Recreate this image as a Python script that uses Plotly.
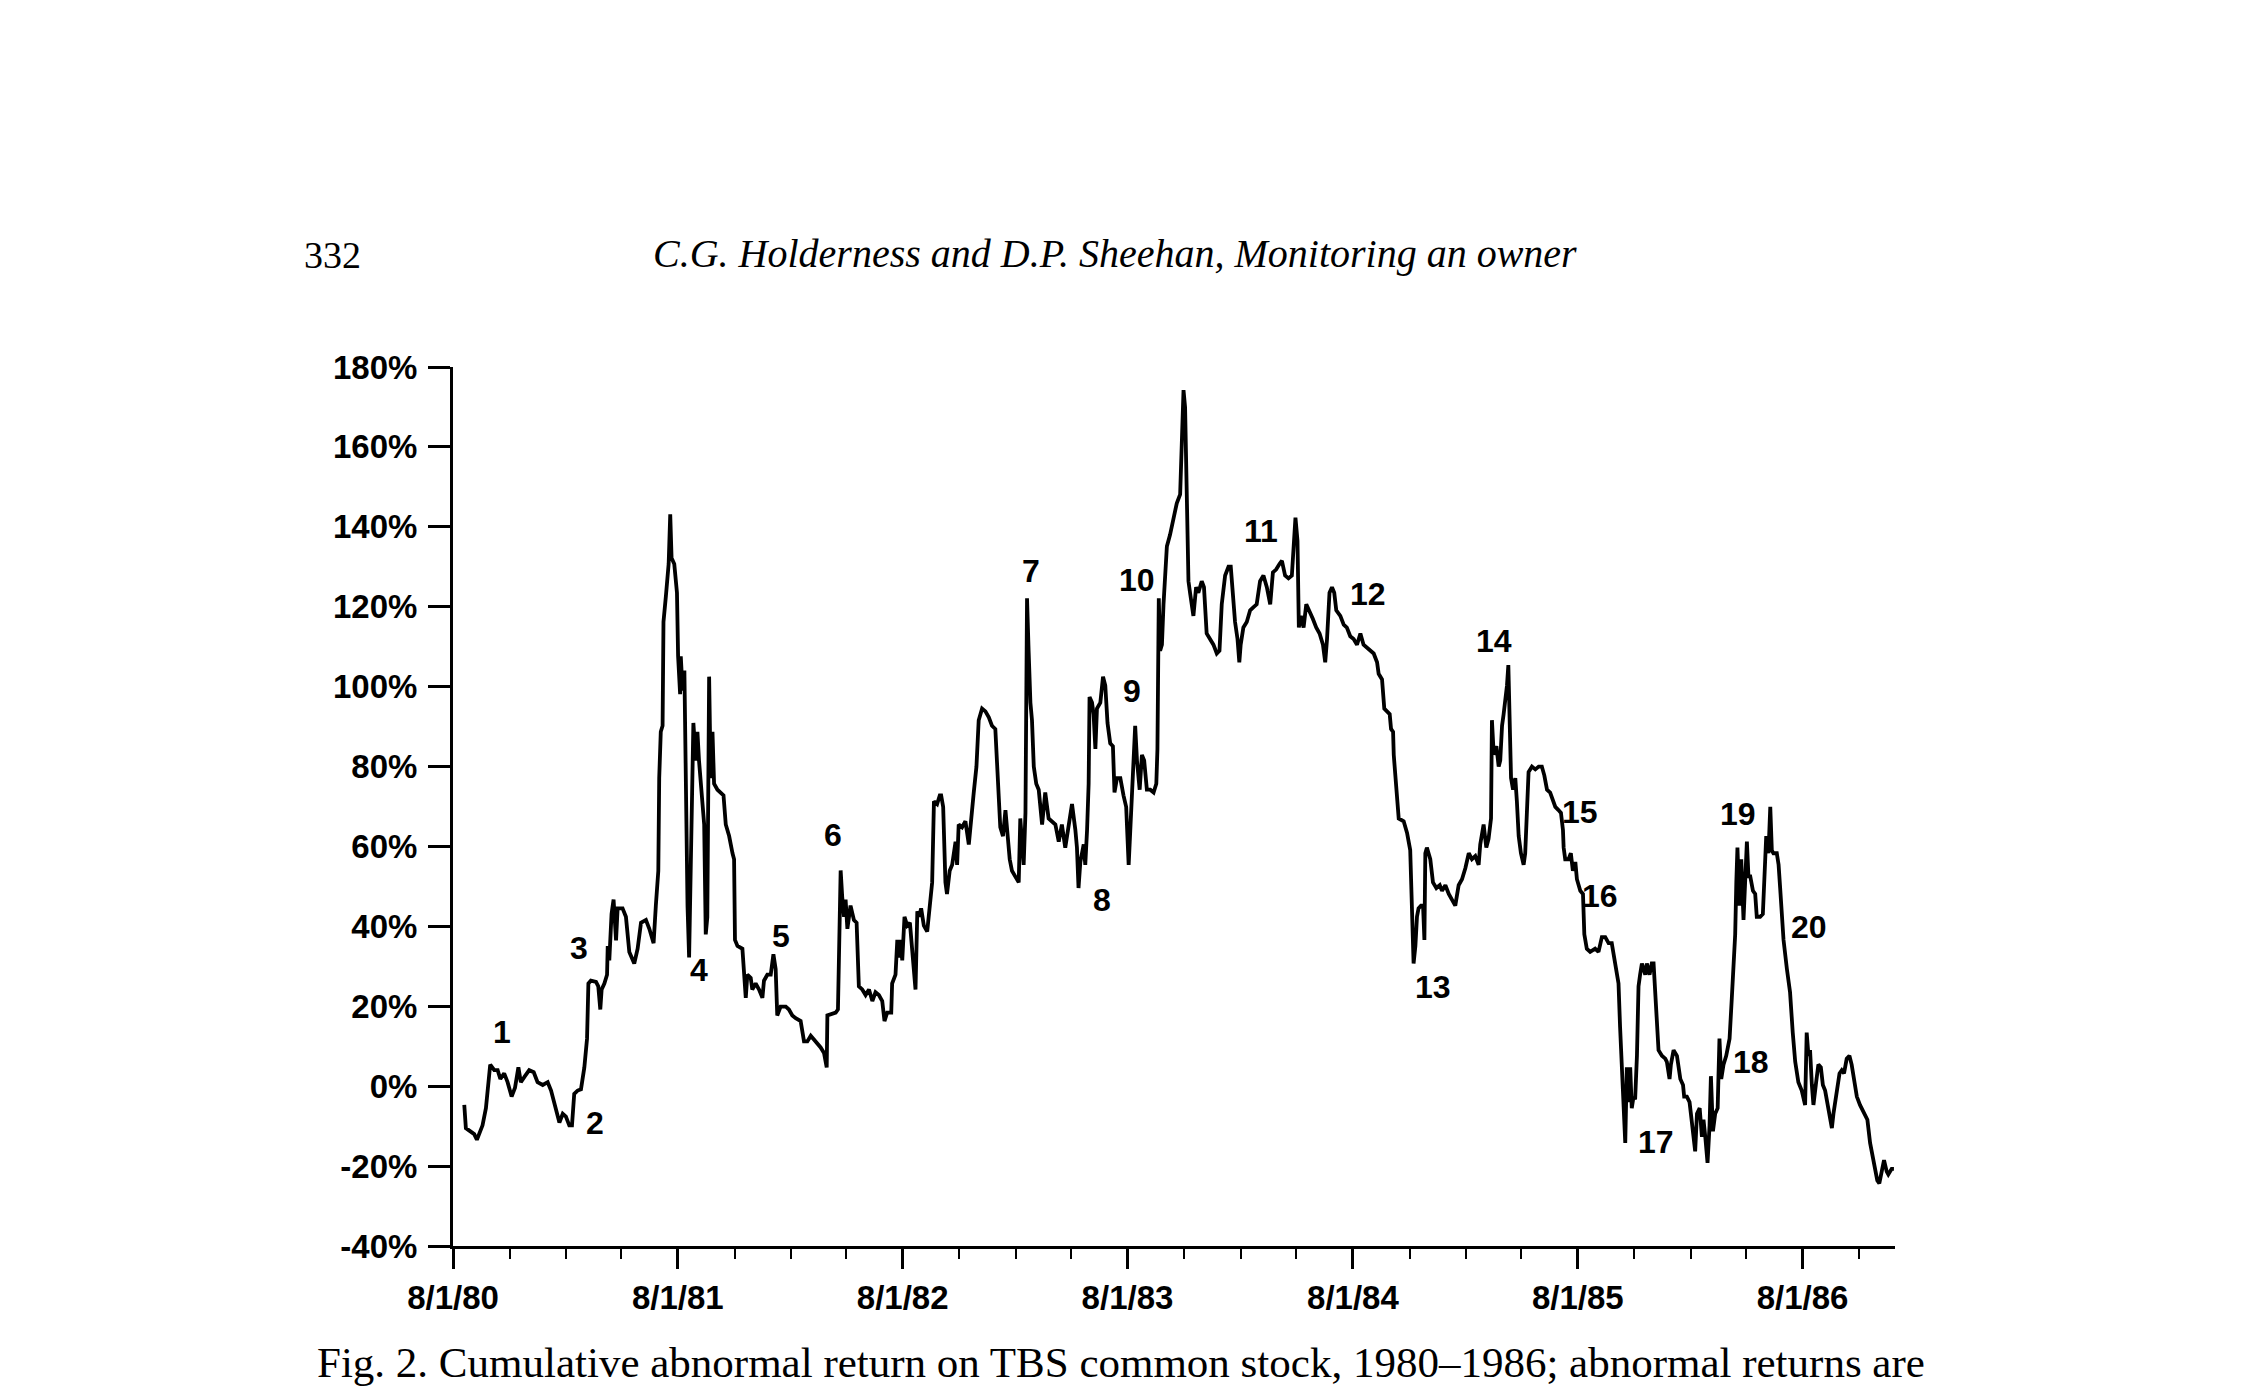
import plotly.graph_objects as go
import pandas as pd

# ---------------- data ----------------
# x: date expressed as decimal year, y: cumulative abnormal return (%)
decimal_year = [
    1980.632, 1980.639, 1980.676, 1980.688, 1980.713, 1980.728, 1980.747, 1980.765, 1980.780, 1980.792,
    1980.809, 1980.824, 1980.842, 1980.857, 1980.872, 1980.883, 1980.901, 1980.920, 1980.940, 1980.957,
    1980.980, 1981.002, 1981.017, 1981.039, 1981.054, 1981.069, 1981.083, 1981.098, 1981.110, 1981.120,
    1981.135, 1981.150, 1981.165, 1981.177, 1981.183, 1981.194, 1981.217, 1981.227, 1981.236, 1981.242,
    1981.254, 1981.266, 1981.269, 1981.276, 1981.286, 1981.295, 1981.306, 1981.313, 1981.335, 1981.350,
    1981.365, 1981.387, 1981.402, 1981.417, 1981.439, 1981.454, 1981.473, 1981.483, 1981.494, 1981.498,
    1981.505, 1981.513, 1981.517, 1981.528, 1981.540, 1981.547, 1981.553, 1981.565, 1981.577, 1981.582,
    1981.591, 1981.594, 1981.602, 1981.610, 1981.617, 1981.624, 1981.631, 1981.640, 1981.650, 1981.661,
    1981.668, 1981.675, 1981.690, 1981.698, 1981.705, 1981.712, 1981.720, 1981.727, 1981.735, 1981.742,
    1981.757, 1981.772, 1981.784, 1981.794, 1981.809, 1981.824, 1981.831, 1981.835, 1981.846, 1981.868,
    1981.875, 1981.883, 1981.890, 1981.905, 1981.912, 1981.927, 1981.942, 1981.957, 1981.964, 1981.979,
    1981.994, 1982.006, 1982.016, 1982.023, 1982.038, 1982.061, 1982.075, 1982.090, 1982.105, 1982.127,
    1982.142, 1982.157, 1982.172, 1982.194, 1982.216, 1982.231, 1982.243, 1982.246, 1982.260, 1982.283,
    1982.293, 1982.297, 1982.305, 1982.312, 1982.320, 1982.327, 1982.335, 1982.349, 1982.364, 1982.376,
    1982.386, 1982.401, 1982.416, 1982.431, 1982.446, 1982.460, 1982.475, 1982.490, 1982.500, 1982.512,
    1982.530, 1982.534, 1982.549, 1982.557, 1982.564, 1982.571, 1982.579, 1982.589, 1982.601, 1982.613,
    1982.619, 1982.638, 1982.646, 1982.653, 1982.663, 1982.675, 1982.690, 1982.702, 1982.712, 1982.720,
    1982.734, 1982.746, 1982.752, 1982.761, 1982.771, 1982.778, 1982.790, 1982.801, 1982.816, 1982.823,
    1982.830, 1982.845, 1982.860, 1982.875, 1982.882, 1982.897, 1982.909, 1982.919, 1982.934, 1982.949,
    1982.964, 1982.978, 1982.993, 1983.001, 1983.008, 1983.015, 1983.027, 1983.038, 1983.048, 1983.057,
    1983.067, 1983.082, 1983.097, 1983.104, 1983.119, 1983.127, 1983.134, 1983.141, 1983.149, 1983.156,
    1983.164, 1983.175, 1983.186, 1983.201, 1983.215, 1983.230, 1983.245, 1983.260, 1983.275, 1983.289,
    1983.304, 1983.319, 1983.334, 1983.349, 1983.356, 1983.363, 1983.371, 1983.386, 1983.393, 1983.401,
    1983.408, 1983.412, 1983.423, 1983.430, 1983.438, 1983.445, 1983.460, 1983.472, 1983.482, 1983.492,
    1983.504, 1983.516, 1983.523, 1983.534, 1983.549, 1983.563, 1983.575, 1983.586, 1983.596, 1983.605,
    1983.615, 1983.623, 1983.635, 1983.645, 1983.655, 1983.667, 1983.682, 1983.697, 1983.709, 1983.714,
    1983.720, 1983.726, 1983.734, 1983.741, 1983.756, 1983.770, 1983.785, 1983.800, 1983.815, 1983.822,
    1983.830, 1983.837, 1983.844, 1983.852, 1983.859, 1983.874, 1983.886, 1983.896, 1983.911, 1983.921,
    1983.933, 1983.948, 1983.963, 1983.978, 1983.990, 1984.000, 1984.015, 1984.030, 1984.040, 1984.049,
    1984.059, 1984.070, 1984.078, 1984.084, 1984.096, 1984.111, 1984.126, 1984.141, 1984.155, 1984.170,
    1984.185, 1984.200, 1984.215, 1984.227, 1984.241, 1984.256, 1984.267, 1984.281, 1984.296, 1984.311,
    1984.321, 1984.327, 1984.336, 1984.342, 1984.351, 1984.363, 1984.375, 1984.389, 1984.404, 1984.419,
    1984.434, 1984.449, 1984.459, 1984.467, 1984.478, 1984.489, 1984.499, 1984.508, 1984.526, 1984.541,
    1984.555, 1984.570, 1984.585, 1984.600, 1984.615, 1984.629, 1984.644, 1984.659, 1984.674, 1984.689,
    1984.696, 1984.711, 1984.721, 1984.733, 1984.745, 1984.751, 1984.760, 1984.763, 1984.770, 1984.778,
    1984.785, 1984.807, 1984.822, 1984.836, 1984.844, 1984.851, 1984.859, 1984.866, 1984.873, 1984.884,
    1984.893, 1984.899, 1984.903, 1984.910, 1984.925, 1984.937, 1984.952, 1984.967, 1984.977, 1984.992,
    1985.007, 1985.022, 1985.036, 1985.051, 1985.066, 1985.081, 1985.096, 1985.110, 1985.125, 1985.140,
    1985.147, 1985.162, 1985.174, 1985.184, 1985.195, 1985.199, 1985.207, 1985.219, 1985.229, 1985.236,
    1985.244, 1985.251, 1985.258, 1985.266, 1985.272, 1985.278, 1985.284, 1985.293, 1985.303, 1985.310,
    1985.318, 1985.328, 1985.340, 1985.347, 1985.355, 1985.362, 1985.377, 1985.392, 1985.407, 1985.421,
    1985.432, 1985.444, 1985.458, 1985.470, 1985.481, 1985.495, 1985.506, 1985.515, 1985.518, 1985.525,
    1985.540, 1985.550, 1985.559, 1985.570, 1985.577, 1985.592, 1985.604, 1985.610, 1985.621, 1985.636,
    1985.658, 1985.673, 1985.688, 1985.703, 1985.718, 1985.732, 1985.747, 1985.762, 1985.769, 1985.777,
    1985.784, 1985.792, 1985.799, 1985.807, 1985.814, 1985.821, 1985.829, 1985.836, 1985.844, 1985.851,
    1985.858, 1985.866, 1985.881, 1985.888, 1985.900, 1985.910, 1985.918, 1985.926, 1985.933, 1985.940,
    1985.955, 1985.970, 1985.977, 1985.989, 1985.995, 1986.007, 1986.022, 1986.029, 1986.037, 1986.049,
    1986.054, 1986.066, 1986.078, 1986.084, 1986.093, 1986.103, 1986.111, 1986.123, 1986.133, 1986.140,
    1986.148, 1986.158, 1986.167, 1986.173, 1986.182, 1986.192, 1986.203, 1986.211, 1986.219, 1986.229,
    1986.241, 1986.256, 1986.266, 1986.274, 1986.281, 1986.286, 1986.291, 1986.300, 1986.308, 1986.318,
    1986.326, 1986.333, 1986.340, 1986.348, 1986.360, 1986.370, 1986.377, 1986.392, 1986.404, 1986.410,
    1986.419, 1986.429, 1986.437, 1986.444, 1986.451, 1986.466, 1986.474, 1986.481, 1986.488, 1986.496,
    1986.511, 1986.525, 1986.537, 1986.548, 1986.562, 1986.577, 1986.592, 1986.599, 1986.607, 1986.614,
    1986.622, 1986.629, 1986.641, 1986.651, 1986.662, 1986.671, 1986.681, 1986.696, 1986.711, 1986.718,
    1986.733, 1986.745, 1986.755, 1986.765, 1986.777, 1986.789, 1986.799, 1986.810, 1986.822, 1986.836,
    1986.851, 1986.869, 1986.881, 1986.896, 1986.913, 1986.922, 1986.933, 1986.943, 1986.955, 1986.962,
    1986.977, 1986.987,
]

car_pct = [
    -4.7, -10.5, -12.0, -13.4, -9.8, -5.5, 5.4, 4.0, 4.0, 1.8,
    3.2, 1.0, -2.6, -0.4, 4.7, 1.0, 2.5, 4.0, 3.5, 1.0,
    0.3, 1.0, -1.1, -5.5, -9.1, -6.9, -7.6, -9.8, -9.8, -1.9,
    -1.1, -0.8, 4.7, 11.9, 25.7, 26.4, 26.1, 25.0, 19.2, 24.2,
    25.7, 27.9, 35.1, 31.5, 43.1, 46.7, 36.5, 44.5, 44.5, 42.4,
    33.6, 30.7, 34.4, 40.9, 41.6, 39.4, 35.8, 45.2, 53.9, 77.1,
    88.7, 90.2, 116.2, 122.8, 130.7, 143.1, 132.2, 130.7, 123.5, 107.6,
    98.1, 107.6, 99.0, 104.0, 70.0, 45.0, 32.2, 60.0, 90.9, 81.5,
    88.7, 81.5, 71.3, 65.5, 38.0, 42.3, 102.5, 77.1, 88.7, 75.7,
    74.2, 73.5, 72.8, 65.5, 62.6, 58.3, 56.8, 36.6, 35.1, 34.4,
    29.3, 22.1, 27.9, 27.1, 24.2, 25.7, 24.2, 22.1, 26.4, 27.9,
    27.9, 33.0, 29.3, 17.7, 19.9, 19.9, 19.2, 17.7, 17.0, 16.3,
    11.2, 11.2, 12.6, 11.2, 9.7, 8.3, 4.7, 17.7, 18.0, 18.4,
    19.2, 36.6, 54.0, 47.4, 42.4, 46.7, 39.4, 45.2, 41.6, 40.9,
    25.0, 24.2, 22.8, 24.2, 21.3, 23.5, 22.8, 21.3, 16.3, 18.4,
    18.4, 25.7, 27.9, 36.6, 32.2, 36.6, 31.5, 42.4, 40.2, 40.9,
    36.6, 24.2, 43.8, 42.4, 44.5, 40.2, 38.7, 46.0, 51.0, 71.3,
    70.6, 72.8, 72.8, 69.9, 51.0, 48.1, 53.9, 55.4, 61.2, 55.4,
    65.5, 64.8, 66.3, 60.5, 65.5, 73.5, 80.0, 91.6, 94.5, 93.8,
    92.3, 90.2, 89.4, 81.5, 73.5, 64.8, 62.6, 69.1, 62.6, 56.8,
    53.9, 52.5, 51.0, 67.0, 55.4, 68.4, 122.1, 109.0, 96.0, 91.6,
    80.0, 75.7, 74.2, 65.5, 73.5, 67.0, 66.3, 65.5, 61.2, 65.5,
    59.7, 65.5, 70.6, 64.1, 59.7, 49.6, 56.1, 60.5, 55.4, 64.1,
    75.7, 97.4, 96.0, 93.1, 84.4, 94.5, 96.0, 102.5, 100.3, 90.9,
    85.8, 85.1, 73.5, 77.1, 77.1, 72.8, 69.9, 55.4, 68.4, 80.0,
    90.2, 81.5, 74.2, 82.9, 81.5, 74.2, 74.2, 73.5, 75.7, 84.4,
    122.1, 109.0, 110.5, 120.6, 135.1, 138.0, 142.3, 145.9, 148.1, 158.3,
    174.2, 169.9, 145.2, 126.4, 123.5, 117.7, 124.9, 123.5, 126.4, 124.9,
    113.3, 111.9, 110.5, 108.3, 109.0, 120.6, 127.8, 130.0, 130.0, 123.5,
    116.2, 111.9, 106.1, 110.5, 114.8, 116.2, 119.1, 119.9, 120.6, 126.4,
    127.8, 124.9, 120.6, 128.6, 129.3, 130.7, 131.5, 127.8, 127.1, 127.8,
    135.1, 142.3, 136.5, 114.8, 117.7, 114.8, 120.6, 119.1, 117.0, 114.8,
    113.3, 110.5, 106.1, 111.9, 123.5, 124.9, 123.5, 119.1, 117.7, 115.5,
    114.8, 112.6, 111.9, 110.5, 113.3, 110.5, 109.7, 109.0, 108.3, 106.1,
    103.2, 101.8, 94.5, 93.8, 93.1, 89.4, 88.7, 82.9, 77.1, 71.3,
    67.0, 66.3, 63.4, 59.1, 43.1, 30.7, 35.1, 42.4, 44.5, 45.2,
    45.2, 36.6, 58.3, 59.7, 56.8, 51.0, 49.6, 50.3, 48.9, 50.3,
    48.1, 46.7, 45.2, 50.3, 51.8, 54.6, 58.3, 56.8, 57.6, 55.4,
    60.5, 65.5, 59.7, 61.9, 67.0, 91.6, 83.0, 85.1, 80.0, 81.5,
    90.2, 93.1, 96.0, 100.3, 105.4, 94.5, 77.1, 74.2, 77.1, 71.3,
    62.6, 58.3, 55.4, 58.3, 69.9, 78.6, 80.0, 79.3, 80.0, 80.0,
    77.8, 74.2, 73.5, 71.3, 69.9, 69.1, 68.4, 64.1, 59.7, 56.8,
    56.8, 58.3, 53.9, 56.1, 51.8, 48.9, 48.1, 38.0, 34.4, 33.6,
    34.4, 33.6, 37.3, 37.3, 35.8, 35.8, 30.7, 25.7, 14.8, 6.1,
    -4.0, -14.2, 4.7, -4.0, 4.7, -5.5, -2.6, -3.3, 7.6, 25.0,
    27.9, 30.7, 27.9, 30.7, 27.9, 30.7, 30.7, 22.1, 13.4, 9.0,
    7.6, 6.9, 6.1, 1.8, 5.4, 9.0, 7.6, 5.4, 1.8, 0.3,
    -2.6, -2.6, -4.0, -6.9, -11.3, -16.3, -6.9, -5.5, -12.7, -8.4,
    -12.7, -19.2, -9.8, 2.5, -11.3, -6.9, -5.5, 11.9, 1.8, 5.4,
    7.6, 11.9, 22.1, 30.7, 38.0, 51.0, 59.7, 45.2, 56.8, 41.6,
    53.9, 61.2, 52.5, 52.5, 48.9, 48.1, 42.4, 42.4, 43.1, 52.5,
    62.6, 58.3, 69.9, 59.0, 58.3, 58.3, 55.4, 49.6, 43.8, 36.6,
    29.3, 23.5, 13.4, 6.1, 1.0, -1.1, -4.7, 13.4, 7.6, 9.0,
    0.3, -4.7, 1.0, 5.4, 4.7, 0.3, -1.1, -5.5, -10.5, -6.9,
    -1.1, 3.2, 4.0, 3.2, 6.9, 7.6, 5.4, 1.8, -2.6, -4.7,
    -6.2, -8.4, -14.2, -18.5, -23.6, -24.3, -21.4, -18.5, -21.4, -22.1,
    -20.7, -20.7,
]

# event numbers annotated on the figure (position as decimal year, %)
event_labels = [str(i) for i in range(1, 21)]
event_year = [1980.798, 1981.212, 1981.142, 1981.677, 1982.041, 1982.270, 1983.150, 1983.468, 1983.602, 1983.621,
              1984.176, 1984.648, 1984.935, 1985.209, 1985.591, 1985.681, 1985.929, 1986.350, 1986.293, 1986.611]
event_pct = [13.6, -9.3, 34.5, 29.1, 37.7, 62.8, 128.9, 46.7, 98.8, 126.8,
             139.0, 123.2, 24.8, 111.3, 68.6, 47.7, -14.0, 6.1, 68.2, 39.9]

x_tick_dates = ["1980-08-01", "1981-08-01", "1982-08-01", "1983-08-01", "1984-08-01", "1985-08-01", "1986-08-01"]
x_tick_labels = ["8/1/80", "8/1/81", "8/1/82", "8/1/83", "8/1/84", "8/1/85", "8/1/86"]
y_tick_values = [-40, -20, 0, 20, 40, 60, 80, 100, 120, 140, 160, 180]
y_tick_labels = ["-40%", "-20%", "0%", "20%", "40%", "60%", "80%", "100%", "120%", "140%", "160%", "180%"]

page_number = "332"
running_head = "C.G. Holderness and D.P. Sheehan, Monitoring an owner"
caption = "Fig. 2. Cumulative abnormal return on TBS common stock, 1980\u20131986; abnormal returns are"


def to_date(dec_year):
    year = int(dec_year)
    start = pd.Timestamp(year=year, month=1, day=1)
    end = pd.Timestamp(year=year + 1, month=1, day=1)
    return (start + (dec_year - year) * (end - start)).strftime("%Y-%m-%d %H:%M")


# ---------------- layout geometry ----------------
W, H = 2250, 1391
L, R, T, B = 453, 1895, 367, 1246


def paper(px, py):
    return (px - L) / (R - L), (B - py) / (B - T)


fig = go.Figure()
fig.add_trace(go.Scatter(
    x=[to_date(v) for v in decimal_year], y=car_pct,
    mode="lines", line=dict(color="black", width=3.8),
    hoverinfo="skip", showlegend=False,
))

label_font = dict(family="Liberation Sans", size=32, color="black", weight="bold")
for lab, yr, pct in zip(event_labels, event_year, event_pct):
    fig.add_annotation(x=to_date(yr), y=pct, text=lab, showarrow=False,
                       font=label_font, xanchor="center", yanchor="middle")

serif = "Liberation Serif"
px_, py_ = paper(332, 255)
fig.add_annotation(x=px_, y=py_, xref="paper", yref="paper", text=page_number, showarrow=False,
                   font=dict(family=serif, size=38, color="black"), xanchor="center", yanchor="middle")
px_, py_ = paper(1115, 253)
fig.add_annotation(x=px_, y=py_, xref="paper", yref="paper", text=running_head, showarrow=False,
                   font=dict(family=serif, size=40, color="black", style="italic"),
                   xanchor="center", yanchor="middle")
px_, py_ = paper(1121, 1362)
fig.add_annotation(x=px_, y=py_, xref="paper", yref="paper", text=caption, showarrow=False,
                   font=dict(family=serif, size=43, color="black"), xanchor="center", yanchor="middle")

tick_font = dict(family="Liberation Sans", size=33, color="black", weight="bold")
fig.update_xaxes(
    type="date", range=["1980-08-01", "1986-12-29"],
    tickmode="array", tickvals=x_tick_dates, ticktext=x_tick_labels,
    ticks="outside", ticklen=20, tickwidth=2.5, tickcolor="black",
    showline=True, linewidth=3, linecolor="black",
    showgrid=False, zeroline=False, tickfont=tick_font,
    minor=dict(dtick="M3", tick0="1980-08-01", ticks="outside", ticklen=10,
               tickwidth=2, tickcolor="black", showgrid=False),
)
fig.update_yaxes(
    range=[-40, 180], tickmode="array", tickvals=y_tick_values, ticktext=y_tick_labels,
    ticks="outside", ticklen=22, tickwidth=2.5, tickcolor="black",
    showline=True, linewidth=3, linecolor="black",
    showgrid=False, zeroline=False, tickfont=tick_font, ticklabelstandoff=4,
)
fig.update_layout(
    width=W, height=H, autosize=False,
    margin=dict(l=L, r=W - R, t=T, b=H - B),
    plot_bgcolor="white", paper_bgcolor="white",
    showlegend=False,
)

fig.write_html("out.html")
